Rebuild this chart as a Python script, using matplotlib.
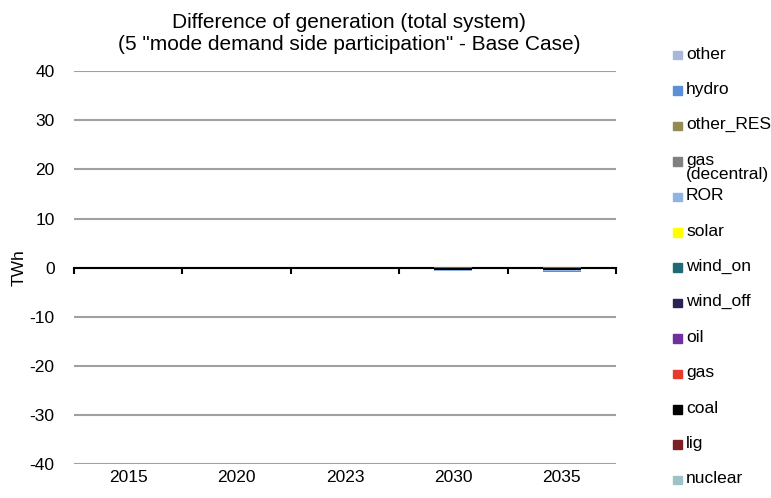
import matplotlib.pyplot as plt
import matplotlib.transforms as mtransforms
from matplotlib.patches import Rectangle
import numpy as np

# Difference of generation per technology (TWh), scenario minus base case
years = ["2015", "2020", "2023", "2030", "2035"]

# stacking order: bottom of legend first (nuclear) up to "other"
techs = ["nuclear", "lig", "coal", "gas", "oil", "wind_off", "wind_on",
         "solar", "ROR", "gas\n(decentral)", "other_RES", "hydro", "other"]
colors = ["#9DC3C6", "#7B2125", "#000000", "#E8392F", "#7030A0", "#2E2350",
          "#1F6B75", "#FFFF00", "#8DB4E2", "#808080", "#948A54", "#5B8FD8",
          "#A9B8D9"]

nuclear = [0.0, 0.0, 0.0, 0.0, 0.0]
lig = [0.0, 0.0, -0.1, -0.1, -0.15]
coal = [0.0, 0.0, -0.05, -0.3, -0.35]
gas = [0.0, 0.0, 0.02, 0.1, 0.2]
oil = [0.0, 0.0, 0.0, 0.0, 0.0]
wind_off = [0.0, 0.0, 0.0, 0.0, 0.0]
wind_on = [0.0, 0.0, 0.0, 0.0, 0.0]
solar = [0.0, 0.0, 0.0, 0.0, 0.0]
ror = [0.0, 0.0, 0.0, -0.2, -0.25]
gas_dec = [0.0, 0.0, 0.0, 0.0, 0.0]
other_res = [0.0, 0.0, 0.0, 0.0, 0.0]
hydro = [0.0, 0.0, 0.0, -0.1, -0.1]
other = [0.0, 0.0, 0.0, 0.0, 0.0]

series = [nuclear, lig, coal, gas, oil, wind_off, wind_on, solar, ror,
          gas_dec, other_res, hydro, other]

plt.rcParams['font.family'] = ['Liberation Sans', 'DejaVu Sans']
plt.rcParams['axes.unicode_minus'] = False

W, H = 771, 498
fig = plt.figure(figsize=(W / 100, H / 100), dpi=100)
ax = fig.add_axes([0.096, 0.068, 0.703, 0.789])

x = np.arange(len(years))
pos_base = np.zeros(len(years))
neg_base = np.zeros(len(years))
for name, col, vals in zip(techs, colors, series):
    vals = np.asarray(vals, dtype=float)
    bottom = np.where(vals >= 0, pos_base, neg_base)
    ax.bar(x, vals, 0.35, bottom=bottom, color=col, label=name, zorder=3)
    pos_base += np.where(vals > 0, vals, 0)
    neg_base += np.where(vals < 0, vals, 0)

ax.set_xlim(-0.5, len(years) - 0.5)
ax.set_ylim(-40, 40)
ax.set_yticks(np.arange(-40, 41, 10))
ax.yaxis.grid(True, color="#A0A0A0", linewidth=1.5)
ax.set_axisbelow(True)
ax.tick_params(axis="y", length=0, labelsize=12.5, pad=14)
ax.set_ylabel("TWh", fontsize=12.5, labelpad=2)

for s in ["left", "right", "top"]:
    ax.spines[s].set_visible(False)
ax.spines["bottom"].set_position(("data", 0))
ax.spines["bottom"].set_linewidth(1.5)
ax.spines["bottom"].set_zorder(2)
ax.set_xticks(np.arange(-0.5, len(years), 1.0))
ax.set_xticklabels([])
ax.tick_params(axis="x", direction="out", length=4, width=1.5)

trans = mtransforms.blended_transform_factory(ax.transData, ax.transAxes)
for i, yr in enumerate(years):
    ax.text(i, -0.035, yr, transform=trans, ha="center", va="center",
            fontsize=12.5)

fig.text(0.4525, 1 - 33 / H, "Difference of generation (total system)\n"
         "(5 \"mode demand side participation\" - Base Case)",
         ha="center", va="center", fontsize=15, linespacing=1.2)

# legend drawn by hand, top entry first, fixed spacing like the original
top_px, step_px = 55, 35.4
for i, (name, col) in enumerate(zip(techs[::-1], colors[::-1])):
    yc = 1 - (top_px + i * step_px) / H
    fig.patches.append(Rectangle((673 / W, yc - 4.5 / H), 8.5 / W, 8.5 / H,
                                 transform=fig.transFigure, color=col))
    fig.text(686 / W, yc + 8.5 / H, name, ha="left", va="top", fontsize=12.5,
             linespacing=0.95)

fig.savefig("out.png", dpi=100)
